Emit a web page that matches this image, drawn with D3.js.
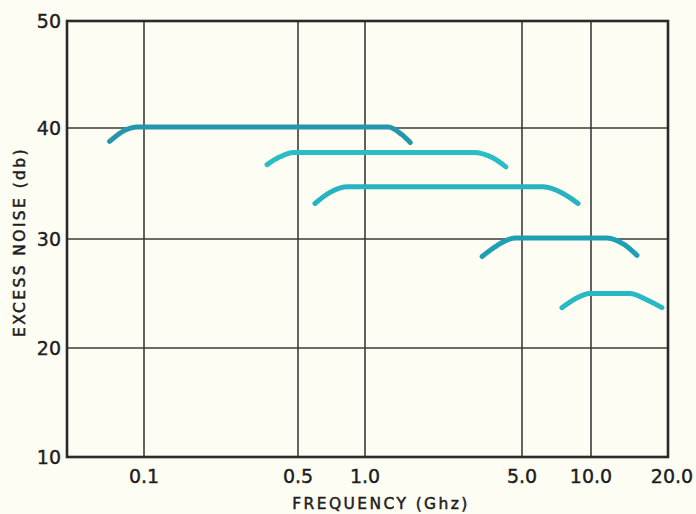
<!DOCTYPE html>
<html>
<head>
<meta charset="utf-8">
<script src="https://cdn.jsdelivr.net/npm/d3@7"></script>
<style>
  body { margin: 0; background: #fdfdf4; }
  svg { display: block; }
  .tick-label { font-family: "DejaVu Sans", sans-serif; font-size: 19px; fill: #1e1e1e; stroke: #1e1e1e; stroke-width: 0.4px; }
  .axis-title { font-family: "DejaVu Sans", sans-serif; font-size: 15.5px; fill: #1e1e1e; stroke: #1e1e1e; stroke-width: 0.5px; letter-spacing: 2.4px; }
</style>
</head>
<body>
<script>
// frequency ticks (GHz) and dB ticks
var xTicks = [0.1, 0.5, 1.0, 5.0, 10.0, 20.0];
var xTickLabels = ['0.1', '0.5', '1.0', '5.0', '10.0', '20.0'];
var yTicks = [10, 20, 30, 40, 50];

// each band: [freq, db] points
var band1 = [[0.070, 38.8], [0.082, 39.8], [0.093, 40.1], [1.27, 40.1], [1.46, 39.4], [1.59, 38.7]];
var band2 = [[0.362, 36.7], [0.414, 37.4], [0.475, 37.8], [3.03, 37.8], [3.72, 37.3], [4.24, 36.5]];
var band3 = [[0.596, 33.2], [0.696, 34.2], [0.839, 34.7], [6.18, 34.7], [7.55, 34.1], [8.78, 33.2]];
var band4 = [[3.32, 28.4], [3.87, 29.4], [4.65, 30.1], [11.55, 30.1], [13.46, 29.5], [15.13, 28.5]];
var band5 = [[7.47, 23.7], [8.51, 24.5], [9.90, 25.0], [14.2, 25.0], [16.56, 24.4], [18.95, 23.7]];
var bands = [band1, band2, band3, band4, band5];
var bandColors = ['#2497ad', '#2bbcc4', '#27b3c0', '#1f9fb3', '#2ab8c2'];

var w = 696;
var h = 514;

var svg = d3.select('body').append('svg')
  .attr('width', w)
  .attr('height', h);

// hand-drawn log paper: ticks are not evenly spaced, so the scale is piecewise
var x = d3.scaleLog()
  .domain([0.045, 0.1, 0.5, 1, 5, 10, 20])
  .range([67, 144, 298, 365, 522, 591, 668]);

var y = d3.scaleLinear()
  .domain([10, 20, 30, 40, 50])
  .range([457, 348, 239, 128, 21]);

var grid = svg.append('g');

grid.selectAll('line.v')
  .data(xTicks.slice(0, -1))
  .enter().append('line')
  .attr('x1', d => x(d)).attr('x2', d => x(d))
  .attr('y1', y(50)).attr('y2', y(10))
  .attr('stroke', '#3a3a3a')
  .attr('stroke-width', 1.6);

grid.selectAll('line.h')
  .data(yTicks.slice(1, -1))
  .enter().append('line')
  .attr('x1', x(0.045)).attr('x2', x(20))
  .attr('y1', d => y(d)).attr('y2', d => y(d))
  .attr('stroke', '#3a3a3a')
  .attr('stroke-width', 1.6);

// frame
svg.append('rect')
  .attr('x', x(0.045))
  .attr('y', y(50))
  .attr('width', x(20) - x(0.045))
  .attr('height', y(10) - y(50))
  .attr('fill', 'none')
  .attr('stroke', '#2a2a2a')
  .attr('stroke-width', 2.6);

var line = d3.line()
  .x(d => x(d[0]))
  .y(d => y(d[1]))
  .curve(d3.curveMonotoneX);

svg.selectAll('path.band')
  .data(bands)
  .enter().append('path')
  .attr('class', 'band')
  .attr('d', line)
  .attr('fill', 'none')
  .attr('stroke', (d, i) => bandColors[i])
  .attr('stroke-width', 5)
  .attr('stroke-linecap', 'round');

svg.selectAll('text.yl')
  .data(yTicks)
  .enter().append('text')
  .attr('class', 'tick-label')
  .attr('x', 61)
  .attr('y', d => y(d))
  .attr('dy', '0.36em')
  .attr('text-anchor', 'end')
  .text(d => d);

svg.selectAll('text.xl')
  .data(xTicks)
  .enter().append('text')
  .attr('class', 'tick-label')
  .attr('x', (d, i) => x(d) + (i == xTicks.length - 1 ? 4 : 0))
  .attr('y', 483)
  .attr('text-anchor', 'middle')
  .text((d, i) => xTickLabels[i]);

svg.append('text')
  .attr('class', 'axis-title')
  .attr('x', 381)
  .attr('y', 509)
  .attr('text-anchor', 'middle')
  .text('FREQUENCY (Ghz)');

svg.append('text')
  .attr('class', 'axis-title')
  .attr('transform', 'translate(25,242) rotate(-90)')
  .attr('text-anchor', 'middle')
  .text('EXCESS NOISE (db)');
</script>
</body>
</html>
